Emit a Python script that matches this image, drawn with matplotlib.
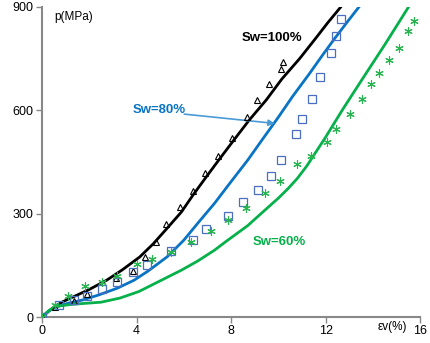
import matplotlib
matplotlib.use("Agg")
import matplotlib.pyplot as plt

plt.rcParams['font.family'] = ['Liberation Sans', 'DejaVu Sans']

# measured points, volumetric strain (%) vs pressure (MPa)
ev_100 = [0, 0.55, 1.35, 1.89, 3.12, 3.87, 4.34, 4.84, 5.26, 5.85, 6.40,
          6.91, 7.45, 8.04, 8.67, 9.09, 9.60, 10.1, 10.2]
p_100 = [0, 29, 46, 67, 113, 133, 174, 217, 270, 319, 365,
         417, 467, 519, 580, 629, 675, 719, 739]

ev_80 = [0, 0.72, 1.35, 1.89, 2.53, 3.16, 3.87, 4.46, 5.47, 6.40, 6.95, 7.87,
         8.51, 9.14, 9.68, 10.1, 10.74, 10.99, 11.41, 11.75, 12.21, 12.46, 12.67]
p_80 = [0, 35, 49, 61, 81, 101, 130, 151, 191, 223, 255, 293,
        333, 368, 409, 455, 530, 574, 632, 696, 765, 815, 864]

ev_60 = [0, 0.55, 1.1, 1.81, 2.53, 3.16, 4.0, 4.67, 5.47, 6.32, 7.16, 7.87, 8.63,
         9.43, 10.06, 10.78, 11.37, 12.04, 12.42, 13.05, 13.52, 13.94, 14.27,
         14.69, 15.12, 15.49, 15.75]
p_60 = [0, 35, 61, 90, 101, 119, 154, 168, 188, 217, 249, 281, 316,
        359, 394, 444, 467, 507, 545, 588, 632, 675, 707, 745, 780, 829, 858]

# model curves
ev_100_fit = [0, 0.3, 0.55, 0.9, 1.31, 2.0, 2.74, 3.4, 4.13, 4.7, 5.26, 5.9,
              6.4, 6.9, 7.45, 8.1, 8.76, 9.5, 10.15, 10.9, 11.58, 12.1, 12.63]
p_100_fit = [0, 18, 31, 45, 58, 80, 107, 137, 174, 212, 255, 305,
             355, 402, 453, 512, 571, 631, 691, 750, 809, 855, 899]

ev_80_fit = [0, 0.3, 0.6, 1.1, 1.7, 2.4, 3.2, 3.9, 4.5, 5.3, 6.0, 6.6, 7.3,
             8.0, 8.7, 9.3, 10.0, 10.6, 11.3, 11.9, 12.4, 12.9, 13.4]
p_80_fit = [0, 18, 29, 40, 49, 64, 84, 107, 134, 175, 223, 273, 330,
            393, 455, 513, 580, 640, 705, 763, 810, 855, 899]

ev_60_fit = [0, 0.3, 0.6, 1.3, 2.5, 3.3, 4.1, 5.0, 5.9, 6.6, 7.3, 7.8, 8.7,
             9.2, 10.0, 10.4, 10.8, 11.2, 11.6, 12.0, 12.7, 13.5, 14.5, 15.5]
p_60_fit = [0, 19, 31, 37, 43, 55, 74, 105, 136, 163, 194, 220, 265,
            296, 345, 372, 402, 438, 480, 522, 600, 685, 790, 899]

C_BLACK = "#000000"
C_BLUE = "#0a74c4"
C_BLUE_PTS = "#4a6fc0"
C_GREEN = "#06b04a"
C_GREEN_PTS = "#28b450"

fig = plt.figure(figsize=(4.30, 3.43), dpi=100)
ax = fig.add_axes([0.0977, 0.0758, 0.8793, 0.9038])

ax.plot(ev_100_fit, p_100_fit, color=C_BLACK, lw=2.0, zorder=3)
ax.plot(ev_80_fit, p_80_fit, color=C_BLUE, lw=2.0, zorder=3)
ax.plot(ev_60_fit, p_60_fit, color=C_GREEN, lw=2.0, zorder=3)

ax.plot(ev_100, p_100, ls="none", marker="^", ms=4.5, mfc="none",
        mec=C_BLACK, mew=0.8, zorder=4)
ax.plot(ev_80, p_80, ls="none", marker="s", ms=5.5, mfc="none",
        mec=C_BLUE_PTS, mew=0.9, zorder=4)
ax.plot(ev_60, p_60, ls="none", marker=(6, 2, 0), ms=6, mfc="none",
        mec=C_GREEN_PTS, mew=0.8, zorder=4)

ax.set_xlim(0, 16)
ax.set_ylim(0, 900)
ax.set_xticks([0, 4, 8, 12, 16])
ax.set_yticks([0, 300, 600, 900])
ax.tick_params(labelsize=9, length=4, width=1, color="#888888", pad=2)

for side in ["top", "right"]:
    ax.spines[side].set_visible(False)
for side in ["left", "bottom"]:
    ax.spines[side].set_color("#888888")
    ax.spines[side].set_linewidth(1.5)

ax.text(0.5, 870, "p(MPa)", fontsize=8.5, va="center", ha="left")
ax.text(14.2, -28, "εv(%)", fontsize=8.5, va="center", ha="left", clip_on=False)

ax.text(8.46, 809, "Sw=100%", fontsize=9.5, fontweight="bold",
        color=C_BLACK, va="center", ha="left")
ax.text(3.83, 600, "Sw=80%", fontsize=9.5, fontweight="bold",
        color=C_BLUE, va="center", ha="left")
ax.text(8.93, 217, "Sw=60%", fontsize=9.5, fontweight="bold",
        color=C_GREEN, va="center", ha="left")

ax.annotate("", xy=(9.85, 562), xytext=(6.02, 589),
            arrowprops=dict(arrowstyle="-|>", color="#4a9ad6", lw=1.2,
                            mutation_scale=9, shrinkA=0, shrinkB=0))

fig.savefig("out.png", dpi=100)
